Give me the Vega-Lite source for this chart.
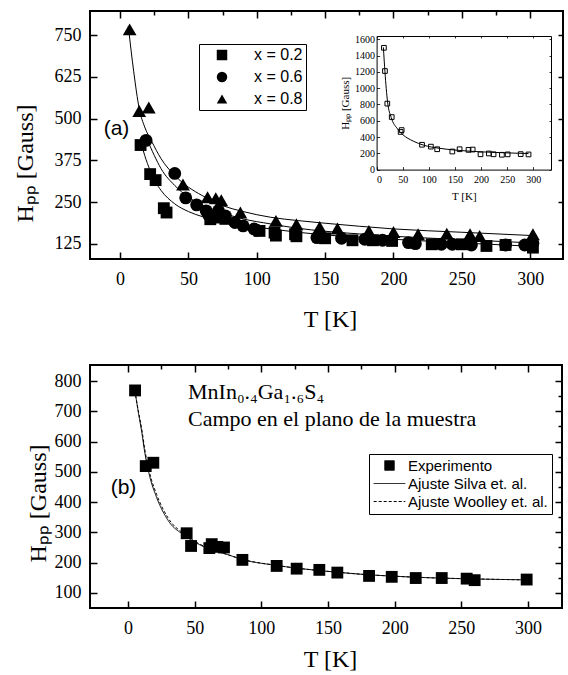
{
  "$schema": "https://vega.github.io/schema/vega-lite/v6.json",
  "background": "white",
  "padding": {"left": 12, "top": 9, "right": 0, "bottom": 0},
  "bounds": "flush",
  "spacing": 106,
  "resolve": {"scale": {"shape": "independent", "strokeDash": "independent", "size": "independent"}, "legend": {"shape": "independent", "strokeDash": "independent", "size": "independent"}},
  "datasets": {
    "a_pts": [
      {"series": "x = 0.2", "T": 15, "H": 421}, {"series": "x = 0.2", "T": 22, "H": 334}, {"series": "x = 0.2", "T": 26, "H": 316},
      {"series": "x = 0.2", "T": 32, "H": 232}, {"series": "x = 0.2", "T": 34, "H": 219}, {"series": "x = 0.2", "T": 66, "H": 199},
      {"series": "x = 0.2", "T": 71, "H": 204}, {"series": "x = 0.2", "T": 77, "H": 200}, {"series": "x = 0.2", "T": 102, "H": 164},
      {"series": "x = 0.2", "T": 113, "H": 159}, {"series": "x = 0.2", "T": 114, "H": 150}, {"series": "x = 0.2", "T": 128, "H": 154},
      {"series": "x = 0.2", "T": 129, "H": 148}, {"series": "x = 0.2", "T": 150, "H": 142}, {"series": "x = 0.2", "T": 170, "H": 136},
      {"series": "x = 0.2", "T": 185, "H": 136}, {"series": "x = 0.2", "T": 199, "H": 134}, {"series": "x = 0.2", "T": 228, "H": 124},
      {"series": "x = 0.2", "T": 250, "H": 124}, {"series": "x = 0.2", "T": 268, "H": 119}, {"series": "x = 0.2", "T": 282, "H": 122},
      {"series": "x = 0.2", "T": 302, "H": 114},
      {"series": "x = 0.6", "T": 19, "H": 435}, {"series": "x = 0.6", "T": 40, "H": 336}, {"series": "x = 0.6", "T": 48, "H": 263},
      {"series": "x = 0.6", "T": 56, "H": 242}, {"series": "x = 0.6", "T": 63, "H": 224}, {"series": "x = 0.6", "T": 65, "H": 210},
      {"series": "x = 0.6", "T": 72, "H": 224}, {"series": "x = 0.6", "T": 77, "H": 209}, {"series": "x = 0.6", "T": 84, "H": 189},
      {"series": "x = 0.6", "T": 90, "H": 179}, {"series": "x = 0.6", "T": 98, "H": 170}, {"series": "x = 0.6", "T": 100, "H": 166},
      {"series": "x = 0.6", "T": 144, "H": 144}, {"series": "x = 0.6", "T": 162, "H": 142}, {"series": "x = 0.6", "T": 179, "H": 139},
      {"series": "x = 0.6", "T": 192, "H": 136}, {"series": "x = 0.6", "T": 211, "H": 129}, {"series": "x = 0.6", "T": 216, "H": 126},
      {"series": "x = 0.6", "T": 235, "H": 124}, {"series": "x = 0.6", "T": 243, "H": 124}, {"series": "x = 0.6", "T": 257, "H": 122},
      {"series": "x = 0.6", "T": 282, "H": 122}, {"series": "x = 0.6", "T": 296, "H": 122}, {"series": "x = 0.6", "T": 302, "H": 127},
      {"series": "x = 0.8", "T": 7, "H": 767}, {"series": "x = 0.8", "T": 14, "H": 523}, {"series": "x = 0.8", "T": 21, "H": 533},
      {"series": "x = 0.8", "T": 46, "H": 303}, {"series": "x = 0.8", "T": 64, "H": 265}, {"series": "x = 0.8", "T": 70, "H": 262},
      {"series": "x = 0.8", "T": 74, "H": 256}, {"series": "x = 0.8", "T": 88, "H": 219}, {"series": "x = 0.8", "T": 114, "H": 194},
      {"series": "x = 0.8", "T": 129, "H": 184}, {"series": "x = 0.8", "T": 146, "H": 176}, {"series": "x = 0.8", "T": 159, "H": 171},
      {"series": "x = 0.8", "T": 182, "H": 164}, {"series": "x = 0.8", "T": 200, "H": 161}, {"series": "x = 0.8", "T": 218, "H": 154},
      {"series": "x = 0.8", "T": 239, "H": 156}, {"series": "x = 0.8", "T": 256, "H": 154}, {"series": "x = 0.8", "T": 263, "H": 149},
      {"series": "x = 0.8", "T": 302, "H": 154}
    ],
    "a_fit": [
      {"series": "x = 0.8", "T": 6, "H": 777}, {"series": "x = 0.8", "T": 10, "H": 640}, {"series": "x = 0.8", "T": 14, "H": 530},
      {"series": "x = 0.8", "T": 18, "H": 475}, {"series": "x = 0.8", "T": 23, "H": 433}, {"series": "x = 0.8", "T": 30, "H": 380},
      {"series": "x = 0.8", "T": 40, "H": 330}, {"series": "x = 0.8", "T": 50, "H": 295}, {"series": "x = 0.8", "T": 60, "H": 270},
      {"series": "x = 0.8", "T": 75, "H": 240}, {"series": "x = 0.8", "T": 90, "H": 222}, {"series": "x = 0.8", "T": 110, "H": 205},
      {"series": "x = 0.8", "T": 130, "H": 195}, {"series": "x = 0.8", "T": 150, "H": 187}, {"series": "x = 0.8", "T": 175, "H": 178},
      {"series": "x = 0.8", "T": 200, "H": 170}, {"series": "x = 0.8", "T": 250, "H": 160}, {"series": "x = 0.8", "T": 302, "H": 150},
      {"series": "x = 0.6", "T": 17, "H": 450}, {"series": "x = 0.6", "T": 20, "H": 433}, {"series": "x = 0.6", "T": 25, "H": 390},
      {"series": "x = 0.6", "T": 30, "H": 350}, {"series": "x = 0.6", "T": 40, "H": 300}, {"series": "x = 0.6", "T": 50, "H": 265},
      {"series": "x = 0.6", "T": 60, "H": 242}, {"series": "x = 0.6", "T": 75, "H": 218}, {"series": "x = 0.6", "T": 90, "H": 200},
      {"series": "x = 0.6", "T": 110, "H": 185}, {"series": "x = 0.6", "T": 130, "H": 172}, {"series": "x = 0.6", "T": 150, "H": 163},
      {"series": "x = 0.6", "T": 175, "H": 155}, {"series": "x = 0.6", "T": 200, "H": 148}, {"series": "x = 0.6", "T": 250, "H": 138},
      {"series": "x = 0.6", "T": 302, "H": 128},
      {"series": "x = 0.2", "T": 15, "H": 433}, {"series": "x = 0.2", "T": 18, "H": 390}, {"series": "x = 0.2", "T": 22, "H": 345},
      {"series": "x = 0.2", "T": 26, "H": 310}, {"series": "x = 0.2", "T": 30, "H": 285}, {"series": "x = 0.2", "T": 40, "H": 245},
      {"series": "x = 0.2", "T": 50, "H": 222}, {"series": "x = 0.2", "T": 60, "H": 207}, {"series": "x = 0.2", "T": 75, "H": 192},
      {"series": "x = 0.2", "T": 90, "H": 181}, {"series": "x = 0.2", "T": 110, "H": 170}, {"series": "x = 0.2", "T": 130, "H": 160},
      {"series": "x = 0.2", "T": 150, "H": 152}, {"series": "x = 0.2", "T": 175, "H": 145}, {"series": "x = 0.2", "T": 200, "H": 139},
      {"series": "x = 0.2", "T": 250, "H": 128}, {"series": "x = 0.2", "T": 302, "H": 118}
    ],
    "in_pts": [
      {"T": 14, "H": 1495}, {"T": 16, "H": 1210}, {"T": 20.5, "H": 810}, {"T": 29, "H": 645}, {"T": 46, "H": 462},
      {"T": 48, "H": 485}, {"T": 87, "H": 305}, {"T": 104, "H": 282}, {"T": 116, "H": 250}, {"T": 145, "H": 222},
      {"T": 159, "H": 250}, {"T": 176, "H": 242}, {"T": 184, "H": 246}, {"T": 199, "H": 188}, {"T": 215, "H": 198},
      {"T": 224, "H": 188}, {"T": 240, "H": 182}, {"T": 251, "H": 187}, {"T": 276, "H": 190}, {"T": 291, "H": 186}
    ],
    "in_fit": [
      {"T": 13, "H": 1500}, {"T": 16, "H": 1200}, {"T": 21, "H": 830}, {"T": 28, "H": 640}, {"T": 40, "H": 500},
      {"T": 50, "H": 430}, {"T": 70, "H": 350}, {"T": 90, "H": 300}, {"T": 120, "H": 262}, {"T": 150, "H": 240},
      {"T": 200, "H": 218}, {"T": 250, "H": 205}, {"T": 291, "H": 197}
    ],
    "b_pts": [
      {"series": "Experimento", "T": 5.3, "H": 769}, {"series": "Experimento", "T": 13.3, "H": 519}, {"series": "Experimento", "T": 19, "H": 530},
      {"series": "Experimento", "T": 44, "H": 297}, {"series": "Experimento", "T": 47.3, "H": 255}, {"series": "Experimento", "T": 61, "H": 248},
      {"series": "Experimento", "T": 62.8, "H": 261}, {"series": "Experimento", "T": 67, "H": 252}, {"series": "Experimento", "T": 72, "H": 250},
      {"series": "Experimento", "T": 85.8, "H": 209}, {"series": "Experimento", "T": 111.5, "H": 189}, {"series": "Experimento", "T": 126.5, "H": 180},
      {"series": "Experimento", "T": 143.5, "H": 176}, {"series": "Experimento", "T": 157, "H": 167}, {"series": "Experimento", "T": 180.8, "H": 156},
      {"series": "Experimento", "T": 197.8, "H": 153}, {"series": "Experimento", "T": 215.8, "H": 149}, {"series": "Experimento", "T": 235.3, "H": 149},
      {"series": "Experimento", "T": 254, "H": 147}, {"series": "Experimento", "T": 260, "H": 142}, {"series": "Experimento", "T": 299, "H": 144}
    ],
    "b_fit": [
      {"series": "Ajuste Silva et. al.", "T": 5, "H": 775}, {"series": "Ajuste Silva et. al.", "T": 8, "H": 690},
      {"series": "Ajuste Silva et. al.", "T": 10, "H": 640}, {"series": "Ajuste Silva et. al.", "T": 12.75, "H": 560},
      {"series": "Ajuste Silva et. al.", "T": 16, "H": 490}, {"series": "Ajuste Silva et. al.", "T": 21.5, "H": 415},
      {"series": "Ajuste Silva et. al.", "T": 30, "H": 340}, {"series": "Ajuste Silva et. al.", "T": 43, "H": 288},
      {"series": "Ajuste Silva et. al.", "T": 58, "H": 250}, {"series": "Ajuste Silva et. al.", "T": 75, "H": 226},
      {"series": "Ajuste Silva et. al.", "T": 85, "H": 211}, {"series": "Ajuste Silva et. al.", "T": 111, "H": 191},
      {"series": "Ajuste Silva et. al.", "T": 126, "H": 182}, {"series": "Ajuste Silva et. al.", "T": 143, "H": 174},
      {"series": "Ajuste Silva et. al.", "T": 160, "H": 167}, {"series": "Ajuste Silva et. al.", "T": 180, "H": 160},
      {"series": "Ajuste Silva et. al.", "T": 200, "H": 155}, {"series": "Ajuste Silva et. al.", "T": 220, "H": 151},
      {"series": "Ajuste Silva et. al.", "T": 250, "H": 147}, {"series": "Ajuste Silva et. al.", "T": 300, "H": 143},
      {"series": "Ajuste Woolley et. al.", "T": 5, "H": 770}, {"series": "Ajuste Woolley et. al.", "T": 8, "H": 695},
      {"series": "Ajuste Woolley et. al.", "T": 10, "H": 650}, {"series": "Ajuste Woolley et. al.", "T": 12.75, "H": 570},
      {"series": "Ajuste Woolley et. al.", "T": 16, "H": 500}, {"series": "Ajuste Woolley et. al.", "T": 21.5, "H": 425},
      {"series": "Ajuste Woolley et. al.", "T": 30, "H": 348}, {"series": "Ajuste Woolley et. al.", "T": 43, "H": 292},
      {"series": "Ajuste Woolley et. al.", "T": 58, "H": 252}, {"series": "Ajuste Woolley et. al.", "T": 75, "H": 226},
      {"series": "Ajuste Woolley et. al.", "T": 85, "H": 212}, {"series": "Ajuste Woolley et. al.", "T": 111, "H": 191},
      {"series": "Ajuste Woolley et. al.", "T": 126, "H": 182}, {"series": "Ajuste Woolley et. al.", "T": 143, "H": 174},
      {"series": "Ajuste Woolley et. al.", "T": 160, "H": 167}, {"series": "Ajuste Woolley et. al.", "T": 180, "H": 160},
      {"series": "Ajuste Woolley et. al.", "T": 200, "H": 155}, {"series": "Ajuste Woolley et. al.", "T": 220, "H": 151},
      {"series": "Ajuste Woolley et. al.", "T": 250, "H": 147}, {"series": "Ajuste Woolley et. al.", "T": 300, "H": 143}
    ],
    "notes": [
      {"panel": "a", "kind": "sans", "T": -12, "H": 470, "label": "(a)"},
      {"panel": "b", "kind": "sans", "T": -13, "H": 447, "label": "(b)"},
      {"panel": "b", "kind": "serif", "T": 45, "H": 740, "label": "MnIn₀.₄Ga₁.₆S₄"},
      {"panel": "b", "kind": "serif", "T": 45, "H": 653, "label": "Campo en el plano de la muestra"}
    ]
  },
  "vconcat": [
    {
      "width": 473,
      "height": 248,
      "layer": [
        {
          "layer": [
            {
              "data": {"name": "a_fit"},
              "mark": {"type": "line", "color": "black", "strokeWidth": 1, "interpolate": "monotone"},
              "encoding": {
                "x": {"field": "T", "type": "quantitative",
                  "scale": {"domain": [-22, 324], "nice": false, "zero": false},
                  "axis": {"values": [0, 25, 50, 75, 100, 125, 150, 175, 200, 225, 250, 275, 300],
                    "labelExpr": "datum.value % 50 === 0 ? datum.label : ''", "labelOverlap": false,
                    "tickSize": {"condition": {"test": "datum.value % 50 !== 0", "value": -4}, "value": -7},
                    "labelPadding": 18, "title": "T [K]", "titleX": 240, "titleY": 67, "titleBaseline": "alphabetic"}},
                "y": {"field": "H", "type": "quantitative",
                  "scale": {"domain": [80, 822], "nice": false, "zero": false},
                  "axis": {"values": [125, 187.5, 250, 312.5, 375, 437.5, 500, 562.5, 625, 687.5, 750],
                    "labelExpr": "datum.value % 125 === 0 ? datum.label : ''", "labelOverlap": false,
                    "tickSize": {"condition": {"test": "datum.value % 125 !== 0", "value": -4}, "value": -7},
                    "labelPadding": 16, "title": "Hₚₚ [Gauss]", "titleX": -58, "titleY": 152, "titleBaseline": "alphabetic", "titleAngle": 270}},
                "detail": {"field": "series"}
              }
            },
            {
              "data": {"name": "a_pts"},
              "mark": {"type": "point", "filled": true, "color": "black", "opacity": 1},
              "encoding": {
                "x": {"field": "T", "type": "quantitative"},
                "y": {"field": "H", "type": "quantitative"},
                "size": {"field": "series", "type": "nominal", "scale": {"domain": ["x = 0.8", "x = 0.6", "x = 0.2"], "range": [190, 140, 110]}, "legend": null},
                "shape": {"field": "series", "type": "nominal",
                  "scale": {"domain": ["x = 0.2", "x = 0.6", "x = 0.8"], "range": ["square", "circle", "triangle-up"]},
                  "legend": {"title": null, "orient": "none", "legendX": 109, "legendY": 33,
                    "strokeColor": "black", "padding": 3,
                    "labelFont": "Liberation Sans", "labelFontSize": 16, "labelColor": "black",
                    "labelOffset": 24, "symbolOffset": 12, "rowPadding": 6, "symbolSize": 110,
                    "symbolFillColor": "black", "symbolStrokeWidth": 0}}
              }
            },
            {
              "data": {"name": "notes"},
              "transform": [{"filter": "datum.panel === 'a'"}],
              "mark": {"type": "text", "font": "Liberation Sans", "fontSize": 21, "align": "left", "baseline": "middle", "color": "black"},
              "encoding": {
                "x": {"field": "T", "type": "quantitative"},
                "y": {"field": "H", "type": "quantitative"},
                "text": {"field": "label"}
              }
            }
          ]
        },
        {
          "data": {"name": "a_pts"},
          "mark": {"type": "point", "opacity": 0, "size": 0},
          "encoding": {
            "x": {"field": "T", "type": "quantitative",
              "scale": {"domain": [-22, 324], "nice": false, "zero": false},
              "axis": {"orient": "top", "values": [0, 25, 50, 75, 100, 125, 150, 175, 200, 225, 250, 275, 300],
                "labels": false, "title": null,
                "tickSize": {"condition": {"test": "datum.value % 50 !== 0", "value": -4}, "value": -7}}},
            "y": {"field": "H", "type": "quantitative",
              "scale": {"domain": [80, 822], "nice": false, "zero": false},
              "axis": {"orient": "right", "values": [125, 250, 375, 500, 625, 750], "labels": false, "title": null, "tickSize": -5}}
          }
        },
        {
          "layer": [
            {
              "data": {"name": "in_fit"},
              "mark": {"type": "line", "color": "black", "strokeWidth": 1, "interpolate": "monotone"},
              "encoding": {
                "x": {"field": "T", "type": "quantitative",
                  "scale": {"domain": [0, 334], "range": [286.6, 461], "nice": false, "zero": false},
                  "axis": {"orient": "bottom", "offset": -89.4, "values": [0, 50, 100, 150, 200, 250, 300], "labelOverlap": false,
                    "domain": true, "domainColor": "black", "domainWidth": 1, "tickSize": -3, "tickWidth": 0.8,
                    "labelFontSize": 10, "labelPadding": 8, "title": "T  [K]", "titleFontSize": 11, "titlePadding": 6}},
                "y": {"field": "H", "type": "quantitative",
                  "scale": {"domain": [0, 1640], "range": [158.6, 25], "nice": false, "zero": false},
                  "axis": {"orient": "left", "offset": -286.6, "values": [0, 200, 400, 600, 800, 1000, 1200, 1400, 1600], "format": "d",
                    "labelExpr": "datum.value % 400 === 0 ? datum.label : ''", "labelOverlap": false,
                    "domain": true, "domainColor": "black", "domainWidth": 1, "tickSize": -3, "tickWidth": 0.8,
                    "labelFontSize": 10, "labelPadding": 5, "title": "Hₚₚ [Gauss]", "titleFontSize": 11, "titlePadding": 4}}
              }
            },
            {
              "data": {"name": "in_pts"},
              "mark": {"type": "point", "shape": "square", "filled": false, "color": "black", "size": 22, "strokeWidth": 1, "opacity": 1},
              "encoding": {
                "x": {"field": "T", "type": "quantitative"},
                "y": {"field": "H", "type": "quantitative"}
              }
            }
          ]
        },
        {
          "data": {"name": "in_pts"},
          "mark": {"type": "point", "opacity": 0, "size": 0},
          "encoding": {
            "x": {"field": "T", "type": "quantitative",
              "scale": {"domain": [0, 334], "range": [286.6, 461], "nice": false, "zero": false},
              "axis": {"orient": "top", "offset": -25, "values": [0, 50, 100, 150, 200, 250, 300], "labels": false, "title": null,
                "domain": true, "domainColor": "black", "domainWidth": 1, "tickSize": -2, "tickWidth": 0.8}},
            "y": {"field": "H", "type": "quantitative",
              "scale": {"domain": [0, 1640], "range": [158.6, 25], "nice": false, "zero": false},
              "axis": {"orient": "right", "offset": -12, "values": [0, 200, 400, 600, 800, 1000, 1200, 1400, 1600], "labels": false, "title": null,
                "domain": true, "domainColor": "black", "domainWidth": 1, "tickSize": -2, "tickWidth": 0.8}}
          }
        },
        {
          "data": {"name": "in_pts"},
          "mark": {"type": "point", "opacity": 0, "size": 0},
          "encoding": {
            "y": {"field": "H", "type": "quantitative",
              "scale": {"domain": [0, 1640], "range": [158.6, 25], "nice": false, "zero": false},
              "axis": {"orient": "left", "offset": -286.6, "values": [200, 600, 1000, 1400], "format": "d", "title": null,
                "tickSize": -3, "tickWidth": 0.8, "labelFontSize": 10, "labelPadding": 5}}
          }
        }
      ],
      "resolve": {"scale": {"x": "independent", "y": "independent"}}
    },
    {
      "width": 472,
      "height": 243,
      "layer": [
        {
          "layer": [
            {
              "data": {"name": "b_fit"},
              "mark": {"type": "line", "color": "black", "strokeWidth": 1, "interpolate": "monotone"},
              "encoding": {
                "x": {"field": "T", "type": "quantitative",
                  "scale": {"domain": [-28.5, 325.5], "nice": false, "zero": false},
                  "axis": {"values": [0, 25, 50, 75, 100, 125, 150, 175, 200, 225, 250, 275, 300],
                    "labelExpr": "datum.value % 50 === 0 ? datum.label : ''", "labelOverlap": false,
                    "tickSize": {"condition": {"test": "datum.value % 50 !== 0", "value": -4}, "value": -7},
                    "labelPadding": 18, "title": "T [K]", "titleX": 240, "titleY": 58, "titleBaseline": "alphabetic"}},
                "y": {"field": "H", "type": "quantitative",
                  "scale": {"domain": [50, 853], "nice": false, "zero": false},
                  "axis": {"values": [100, 150, 200, 250, 300, 350, 400, 450, 500, 550, 600, 650, 700, 750, 800],
                    "labelExpr": "datum.value % 200 === 100 ? datum.label : ''", "labelOverlap": false,
                    "tickSize": {"condition": {"test": "datum.value % 100 !== 0", "value": -4}, "value": -7},
                    "labelPadding": 16, "title": "Hₚₚ [Gauss]", "titleX": -45, "titleY": 138, "titleBaseline": "alphabetic", "titleAngle": 270}},
                "strokeDash": {"field": "series", "type": "nominal",
                  "scale": {"domain": ["Experimento", "Ajuste Silva et. al.", "Ajuste Woolley et. al."], "range": [[1, 0], [1, 0], [3, 2]]},
                  "legend": {"title": null, "orient": "none", "legendX": 279, "legendY": 89,
                    "strokeColor": "black", "padding": 4,
                    "labelFont": "Liberation Sans", "labelFontSize": 15, "labelColor": "black", "labelOffset": 2,
                    "rowPadding": 2, "clipHeight": 15, "symbolSize": 1000, "symbolType": "stroke",
                    "symbolStrokeColor": "black", "symbolStrokeWidth": 1,
                    "encode": {"symbols": {"update": {
                      "shape": {"signal": "datum.value === 'Experimento' ? 'square' : 'stroke'"},
                      "size": {"signal": "datum.value === 'Experimento' ? 90 : 1000"},
                      "fill": {"signal": "datum.value === 'Experimento' ? 'black' : 'transparent'"},
                      "stroke": {"value": "black"}}}}}}
              }
            },
            {
              "data": {"name": "b_pts"},
              "mark": {"type": "point", "shape": "square", "filled": true, "color": "black", "size": 140, "opacity": 1},
              "encoding": {
                "x": {"field": "T", "type": "quantitative"},
                "y": {"field": "H", "type": "quantitative"},
                "strokeDash": {"field": "series", "type": "nominal"}
              }
            },
            {
              "data": {"name": "notes"},
              "transform": [{"filter": "datum.panel === 'b' && datum.kind === 'sans'"}],
              "mark": {"type": "text", "font": "Liberation Sans", "fontSize": 21, "align": "left", "baseline": "middle", "color": "black"},
              "encoding": {
                "x": {"field": "T", "type": "quantitative"},
                "y": {"field": "H", "type": "quantitative"},
                "text": {"field": "label"}
              }
            },
            {
              "data": {"name": "notes"},
              "transform": [{"filter": "datum.panel === 'b' && datum.kind === 'serif'"}],
              "mark": {"type": "text", "font": "Liberation Serif", "fontSize": 22, "align": "left", "baseline": "alphabetic", "color": "black"},
              "encoding": {
                "x": {"field": "T", "type": "quantitative"},
                "y": {"field": "H", "type": "quantitative"},
                "text": {"field": "label"}
              }
            }
          ]
        },
        {
          "data": {"name": "b_pts"},
          "mark": {"type": "point", "opacity": 0, "size": 0},
          "encoding": {
            "x": {"field": "T", "type": "quantitative",
              "scale": {"domain": [-28.5, 325.5], "nice": false, "zero": false},
              "axis": {"orient": "top", "values": [0, 25, 50, 75, 100, 125, 150, 175, 200, 225, 250, 275, 300],
                "labels": false, "title": null,
                "tickSize": {"condition": {"test": "datum.value % 50 !== 0", "value": -4}, "value": -7}}},
            "y": {"field": "H", "type": "quantitative",
              "scale": {"domain": [50, 853], "nice": false, "zero": false},
              "axis": {"orient": "right", "values": [100, 150, 200, 250, 300, 350, 400, 450, 500, 550, 600, 650, 700, 750, 800],
                "labels": false, "title": null,
                "tickSize": {"condition": {"test": "datum.value % 100 !== 0", "value": -4}, "value": -7}}}
          }
        },
        {
          "data": {"name": "b_pts"},
          "mark": {"type": "point", "opacity": 0, "size": 0},
          "encoding": {
            "y": {"field": "H", "type": "quantitative",
              "scale": {"domain": [50, 853], "nice": false, "zero": false},
              "axis": {"orient": "left", "values": [200, 400, 600, 800], "title": null, "tickSize": -7, "labelPadding": 16}}
          }
        }
      ],
      "resolve": {"scale": {"x": "independent", "y": "independent"}}
    }
  ],
  "config": {
    "font": "Liberation Serif",
    "view": {"stroke": "black", "strokeWidth": 2},
    "axis": {
      "grid": false, "domain": false,
      "labelFont": "Liberation Serif", "titleFont": "Liberation Serif",
      "labelFontSize": 18, "titleFontSize": 24, "titleFontWeight": "normal",
      "labelColor": "black", "titleColor": "black", "tickColor": "black", "domainColor": "black",
      "tickWidth": 1.5
    },
    "legend": {"labelFont": "Liberation Sans", "labelColor": "black"}
  }
}
